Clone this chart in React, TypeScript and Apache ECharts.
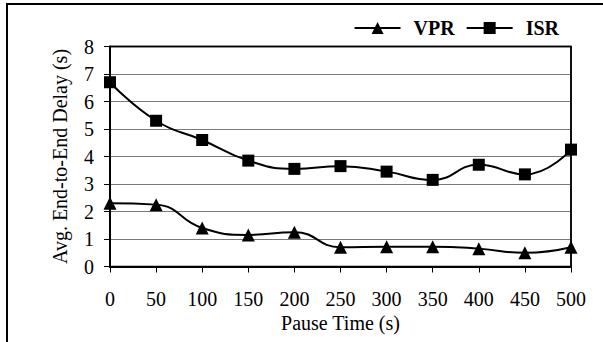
import React, { useEffect, useRef } from "react";
import * as echarts from "echarts";

const pauseTimes = [0, 50, 100, 150, 200, 250, 300, 350, 400, 450, 500];
const vprDelay = [2.3, 2.25, 1.4, 1.15, 1.25, 0.7, 0.72, 0.72, 0.65, 0.5, 0.7];
const isrDelay = [6.7, 5.3, 4.6, 3.85, 3.55, 3.65, 3.45, 3.15, 3.7, 3.35, 4.25];
const xMax = 500;
const yMax = 8;

const FONT = "Liberation Serif";

export default function App() {
  const ref = useRef<HTMLDivElement>(null);
  useEffect(() => {
    document.body.style.margin = "0";
    const chart = echarts.init(ref.current!, null, { renderer: "svg" });
    const pair = (ys: number[]) => pauseTimes.map((x, i) => [x, ys[i]]);
    chart.setOption({
      animation: false,
      backgroundColor: "#fff",
      textStyle: { fontFamily: FONT },
      legend: {
        right: 39,
        top: 13,
        itemWidth: 46,
        itemHeight: 15,
        itemGap: 11,
        textStyle: {
          fontFamily: FONT,
          fontSize: 20,
          fontWeight: "bold",
          color: "#000",
          padding: [0, 0, 0, 8],
        },
        data: ["VPR", "ISR"],
      },
      grid: {
        left: 110,
        right: 32,
        top: 46.5,
        bottom: 75.5,
        show: true,
        borderColor: "#000",
        borderWidth: 1.5,
        containLabel: false,
      },
      xAxis: {
        type: "value",
        min: 0,
        max: xMax,
        interval: 50,
        name: "Pause Time (s)",
        nameLocation: "middle",
        nameGap: 46,
        nameTextStyle: { fontFamily: FONT, fontSize: 20, color: "#000" },
        axisLine: { show: true, onZero: false, lineStyle: { color: "#000", width: 2 } },
        axisTick: { show: true, length: 6, lineStyle: { color: "#000", width: 1 } },
        axisLabel: { fontFamily: FONT, fontSize: 20, color: "#000", margin: 22 },
        splitLine: { show: false },
      },
      yAxis: {
        type: "value",
        min: 0,
        max: yMax,
        interval: 1,
        name: "Avg. End-to-End Delay (s)",
        nameLocation: "middle",
        nameRotate: 90,
        nameGap: 40,
        nameTextStyle: { fontFamily: FONT, fontSize: 20, color: "#000" },
        axisLine: { show: true, onZero: false, lineStyle: { color: "#000", width: 2 } },
        axisTick: { show: true, length: 6, lineStyle: { color: "#000", width: 1 } },
        axisLabel: { fontFamily: FONT, fontSize: 20, color: "#000", margin: 16 },
        splitLine: { show: true, lineStyle: { color: "#7a7a7a", width: 1 } },
      },
      series: [
        {
          name: "VPR",
          type: "line",
          data: pair(vprDelay),
          smooth: 0.5,
          symbol: "triangle",
          symbolSize: 13,
          lineStyle: { color: "#000", width: 2 },
          itemStyle: { color: "#000" },
          z: 5,
        },
        {
          name: "ISR",
          type: "line",
          data: pair(isrDelay),
          smooth: 0.5,
          symbol: "rect",
          symbolSize: 12,
          lineStyle: { color: "#000", width: 2 },
          itemStyle: { color: "#000" },
          z: 5,
        },
      ],
    });
    const tl = chart.convertToPixel({ gridIndex: 0 }, [0, yMax]) as number[];
    const br = chart.convertToPixel({ gridIndex: 0 }, [xMax, 0]) as number[];
    chart.setOption({
      graphic: [
        {
          type: "rect",
          shape: { x: 7, y: 4, width: 700, height: 400 },
          style: { fill: "none", stroke: "#000", lineWidth: 2 },
          silent: true,
        },
        {
          type: "polyline",
          shape: { points: [[tl[0], tl[1]], [br[0], tl[1]], [br[0], br[1]]] },
          style: { fill: "none", stroke: "#000", lineWidth: 1.5 },
          silent: true,
          z: 3,
        },
      ],
    });
    return () => chart.dispose();
  }, []);
  return (
    <div
      ref={ref}
      style={{ position: "absolute", left: 0, top: 0, width: 603, height: 342 }}
    />
  );
}
